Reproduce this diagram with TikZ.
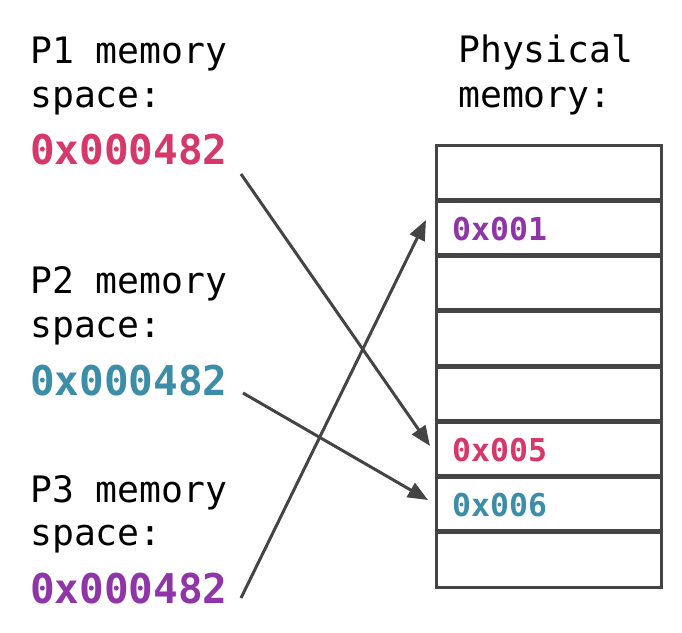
\documentclass[tikz,border=0pt]{standalone}
\usepackage{fontspec}
\setmonofont{DejaVu Sans Mono}
\usetikzlibrary{arrows.meta}
\definecolor{hexpink}{HTML}{D6386A}
\definecolor{hexteal}{HTML}{3C8DA8}
\definecolor{hexpurple}{HTML}{9035A8}
\definecolor{linegray}{HTML}{444444}
\tikzset{
  lbl/.style={inner sep=0pt, anchor=base west, font=\ttfamily\fontsize{36.4}{36.4}\selectfont},
  hexlbl/.style={inner sep=0pt, anchor=base west, font=\ttfamily\bfseries\fontsize{41}{41}\selectfont},
  cellhex/.style={inner sep=0pt, anchor=base west, font=\ttfamily\bfseries\fontsize{31.5}{31.5}\selectfont},
  cellbox/.style={draw=linegray, line width=3pt},
  maparrow/.style={draw=linegray, line width=3pt, -{Triangle[length=20pt,width=16pt]}, shorten >=0pt}
}
\begin{document}
\begin{tikzpicture}[x=1pt,y=-1pt]
\useasboundingbox (0,0) rectangle (682,632);
% left labels
\node[lbl] (p1a) at (30,63) {P1 memory};
\node[lbl] (p1b) at (30,107) {space:};
\node[hexlbl, text=hexpink] (p1h) at (30,164) {0x000482};
\node[lbl] (p2a) at (30,293) {P2 memory};
\node[lbl] (p2b) at (30,337) {space:};
\node[hexlbl, text=hexteal] (p2h) at (30,395) {0x000482};
\node[lbl] (p3a) at (30,502) {P3 memory};
\node[lbl] (p3b) at (30,545) {space:};
\node[hexlbl, text=hexpurple] (p3h) at (30,603) {0x000482};
% right title
\node[lbl] (pma) at (458,62) {Physical};
\node[lbl] (pmb) at (458,107) {memory:};
% memory cells
\foreach \i in {0,...,7} {
  \pgfmathsetmacro{\t}{145+55.25*\i+(\i>0 ? 1 : 0)}
  \pgfmathsetmacro{\b}{145+55.25*(\i+1)-(\i<7 ? 1 : 0)}
  \draw[cellbox] (436,\t) rectangle (661,\b);
}
\node[cellhex, text=hexpurple] (c1) at (452,240) {0x001};
\node[cellhex, text=hexpink] (c5) at (452,461) {0x005};
\node[cellhex, text=hexteal] (c6) at (452,516) {0x006};
% arrow ends
\coordinate (s1) at (241,174);
\coordinate (s2) at (243,393);
\coordinate (s3) at (241,598);
\coordinate (e1) at (430,446);
\coordinate (e2) at (428,500);
\coordinate (e3) at (426,220);
\draw[maparrow] (s1) -- (e1);
\draw[maparrow] (s2) -- (e2);
\draw[maparrow] (s3) -- (e3);
\end{tikzpicture}
\end{document}
